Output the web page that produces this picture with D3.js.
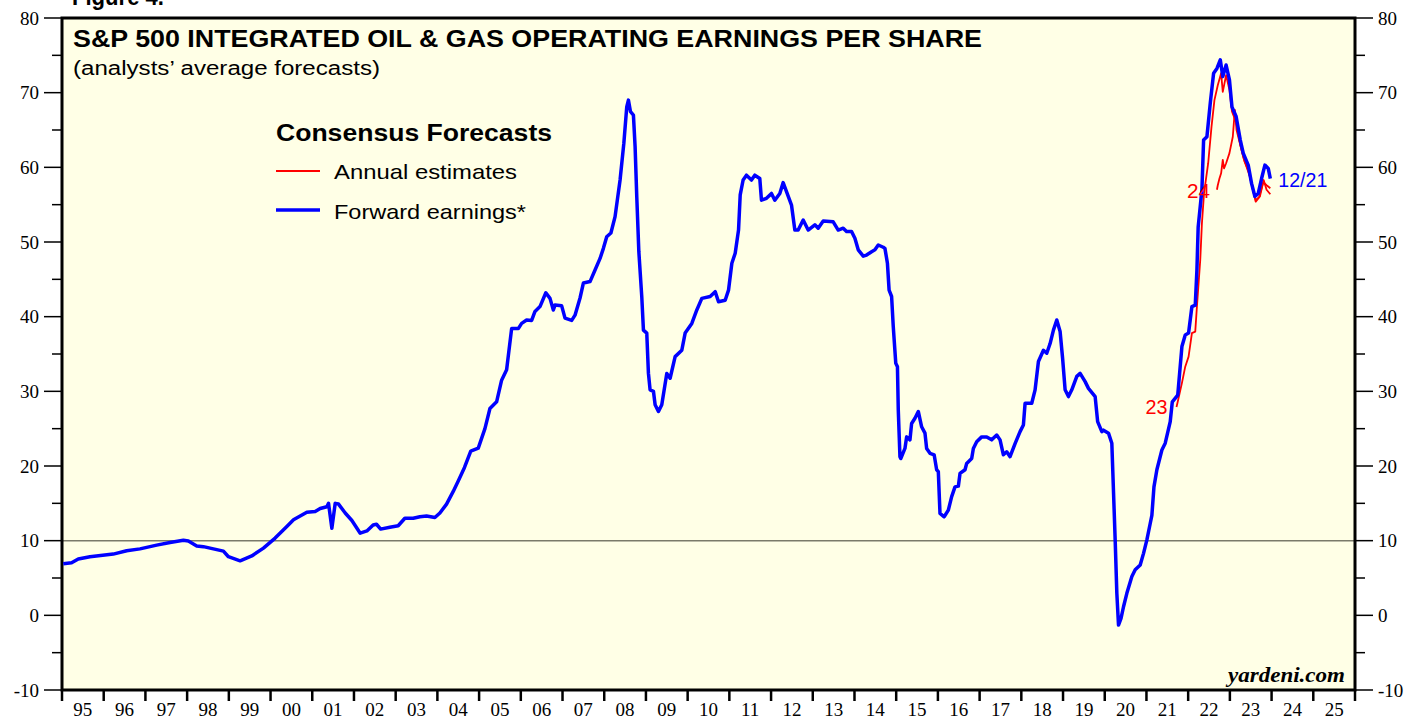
<!DOCTYPE html>
<html>
<head>
<meta charset="utf-8">
<script src="https://cdn.jsdelivr.net/npm/d3@7"></script>
<style>
  body { margin: 0; background: #fff; }
  svg { display: block; }
</style>
</head>
<body>
<div id="chart"></div>
<script>
// forward earnings (decimal year, $/share)
const fwdDates = [1995.03,1995.23,1995.39,1995.67,1996.23,1996.55,1996.87,1997.27,1997.59,1997.91,1998.03,1998.23,1998.39,1998.63,1998.87,1998.99,1999.27,1999.55,1999.83,2000.11,2000.39,2000.55,2000.87,2001.07,2001.19,2001.35,2001.39,2001.47,2001.55,2001.63,2001.79,2001.95,2002.15,2002.31,2002.46,2002.54,2002.64,2002.86,2003.06,2003.22,2003.42,2003.58,2003.74,2003.94,2004.06,2004.22,2004.38,2004.50,2004.65,2004.80,2004.98,2005.14,2005.26,2005.42,2005.54,2005.66,2005.78,2005.94,2006.02,2006.14,2006.26,2006.34,2006.46,2006.60,2006.70,2006.78,2006.82,2006.98,2007.06,2007.22,2007.30,2007.42,2007.50,2007.66,2007.78,2007.90,2007.98,2008.06,2008.16,2008.26,2008.38,2008.47,2008.54,2008.58,2008.63,2008.70,2008.74,2008.78,2008.83,2008.90,2008.94,2009.02,2009.06,2009.10,2009.18,2009.22,2009.30,2009.38,2009.50,2009.58,2009.70,2009.86,2009.94,2010.10,2010.22,2010.34,2010.54,2010.66,2010.74,2010.90,2010.98,2011.06,2011.14,2011.22,2011.26,2011.33,2011.41,2011.53,2011.61,2011.73,2011.77,2011.89,2012.01,2012.09,2012.21,2012.29,2012.37,2012.49,2012.57,2012.65,2012.77,2012.89,2013.05,2013.13,2013.25,2013.49,2013.61,2013.73,2013.81,2013.93,2014.01,2014.09,2014.21,2014.29,2014.41,2014.49,2014.57,2014.69,2014.73,2014.79,2014.83,2014.89,2014.93,2014.99,2015.03,2015.05,2015.09,2015.11,2015.21,2015.25,2015.33,2015.37,2015.45,2015.53,2015.61,2015.69,2015.73,2015.81,2015.91,2015.97,2016.01,2016.05,2016.15,2016.25,2016.33,2016.41,2016.49,2016.53,2016.65,2016.69,2016.81,2016.85,2016.93,2017.05,2017.17,2017.29,2017.41,2017.49,2017.57,2017.65,2017.73,2017.85,2017.97,2018.05,2018.09,2018.25,2018.33,2018.41,2018.53,2018.61,2018.69,2018.77,2018.85,2018.93,2018.99,2019.05,2019.13,2019.21,2019.33,2019.41,2019.53,2019.61,2019.77,2019.83,2019.93,2019.97,2020.09,2020.17,2020.25,2020.29,2020.33,2020.39,2020.45,2020.53,2020.65,2020.73,2020.85,2020.93,2021.01,2021.09,2021.13,2021.18,2021.25,2021.37,2021.45,2021.57,2021.62,2021.75,2021.85,2021.93,2022.01,2022.09,2022.17,2022.21,2022.24,2022.33,2022.37,2022.45,2022.53,2022.61,2022.69,2022.77,2022.83,2022.91,2022.99,2023.05,2023.15,2023.25,2023.32,2023.44,2023.52,2023.60,2023.68,2023.76,2023.84,2023.92,2023.97];
const fwdValues = [6.9,7.05,7.55,7.85,8.2,8.65,8.9,9.4,9.75,10.05,9.95,9.3,9.2,8.9,8.6,7.85,7.3,7.95,9.0,10.35,11.9,12.8,13.8,13.9,14.3,14.55,15.0,11.65,15.0,14.9,13.7,12.7,11.0,11.3,12.1,12.2,11.55,11.8,12.0,13.0,13.0,13.2,13.3,13.1,13.7,14.9,16.6,18.0,19.8,22.0,22.4,25.0,27.7,28.6,31.5,32.9,38.4,38.4,39.1,39.55,39.5,40.7,41.35,43.2,42.45,40.9,41.55,41.45,39.8,39.5,40.2,42.5,44.5,44.7,46.25,47.8,49.15,50.7,51.2,53.4,58.3,63.2,68.1,69.0,67.45,67.0,62.8,56.1,48.7,42.7,38.2,37.8,32.4,30.2,30.0,28.2,27.3,28.2,32.4,31.75,34.65,35.5,37.8,39.1,40.9,42.45,42.7,43.35,42.0,42.2,43.55,47.15,48.5,51.6,56.3,58.3,58.95,58.3,58.95,58.5,55.6,55.85,56.5,55.6,56.5,57.95,56.75,54.95,51.6,51.6,52.95,51.6,52.3,51.85,52.8,52.7,51.6,51.85,51.4,51.4,50.5,48.95,48.1,48.25,48.7,48.95,49.6,49.3,49.15,47.15,43.55,42.7,38.65,33.75,33.3,27.5,21.25,21.0,22.35,23.9,23.5,25.7,26.4,27.3,25.25,24.4,22.35,21.7,21.5,19.5,19.25,13.65,13.2,14.1,15.9,17.2,17.3,19.0,19.5,20.35,21.0,22.35,23.25,23.9,23.9,23.5,24.15,23.5,21.5,21.9,21.25,23.0,24.6,25.5,28.4,28.4,30.2,34.0,35.5,35.1,36.4,38.2,39.55,38.0,34.4,30.2,29.3,30.2,32.0,32.4,31.3,30.4,29.3,25.95,24.6,24.8,24.4,23.05,10.1,2.95,-1.3,-0.4,1.15,2.95,5.2,6.1,6.75,8.3,10.1,12.3,13.4,17.2,19.5,22.15,23.05,25.95,28.6,29.5,36.0,37.55,37.8,41.35,41.55,46.25,52.0,57.0,63.65,64.1,68.6,72.6,73.25,74.4,72.15,73.7,71.7,68.1,66.8,63.65,61.9,60.3,57.85,56.1,56.5,58.5,60.3,59.85,58.5];

// annual estimates for 2023 and 2024
const est23Dates = [2021.72,2021.75,2021.85,2021.93,2022.01,2022.09,2022.17,2022.21,2022.29,2022.33,2022.38,2022.48,2022.56,2022.63,2022.71,2022.79,2022.83,2022.91,2022.99,2023.05,2023.15,2023.25,2023.35,2023.45,2023.55,2023.62,2023.70,2023.80,2023.88,2023.97];
const est23Values = [27.9,28.6,31.1,33.3,34.65,37.8,38.0,41.35,47.6,52.5,56.5,60.55,65.45,69.0,71.0,72.6,70.1,72.35,70.35,67.5,66.0,63.0,60.8,59.5,57.0,55.6,56.0,58.0,57.6,57.2];
const est24Dates = [2022.69,2022.71,2022.75,2022.79,2022.83,2022.86,2022.91,2022.99,2023.07,2023.12,2023.16,2023.32,2023.48,2023.62,2023.72,2023.81,2023.88,2023.97];
const est24Values = [57.0,57.6,58.5,59.2,61.0,59.85,60.55,61.9,64.1,67.7,65.0,61.4,58.75,55.4,56.1,58.3,57.0,56.4];

const yearLabels = ['95','96','97','98','99','00','01','02','03','04','05','06','07','08','09','10','11','12','13','14','15','16','17','18','19','20','21','22','23','24','25'];
const yTicks = [-10, 0, 10, 20, 30, 40, 50, 60, 70, 80];

// -----------------------------------------------
const W = 1405, H = 717;
const plot = { left: 62, right: 1355, top: 18, bottom: 690 };
const serif = "'Liberation Serif', 'Times New Roman', serif";
const sans = "'Liberation Sans', Arial, Helvetica, sans-serif";

const x = d3.scaleLinear().domain([1995, 2026]).range([plot.left, plot.right]);
const y = d3.scaleLinear().domain([-10, 80]).range([plot.bottom, plot.top]);

const svg = d3.select('#chart').append('svg')
  .attr('width', W).attr('height', H)
  .attr('viewBox', [0, 0, W, H]);

// plot background
svg.append('rect')
  .attr('x', plot.left).attr('y', plot.top)
  .attr('width', plot.right - plot.left).attr('height', plot.bottom - plot.top)
  .attr('fill', '#ffffe6');

// reference line at 10
svg.append('line')
  .attr('x1', plot.left).attr('x2', plot.right)
  .attr('y1', y(10)).attr('y2', y(10))
  .attr('stroke', '#7a7a6a').attr('stroke-width', 1.5);

// y axes, left and right
const yMinor = d3.range(-5, 80, 10);
let yAxis = (g, side) => {
  const dir = side === 'left' ? -1 : 1;
  const x0 = side === 'left' ? plot.left : plot.right;
  g.selectAll('line.major').data(yTicks).join('line')
    .attr('class', 'major')
    .attr('x1', x0).attr('x2', x0 + dir * 18)
    .attr('y1', (d) => y(d)).attr('y2', (d) => y(d))
    .attr('stroke', '#000').attr('stroke-width', 1.5);
  g.selectAll('line.minor').data(yMinor).join('line')
    .attr('class', 'minor')
    .attr('x1', x0).attr('x2', x0 + dir * 10)
    .attr('y1', (d) => y(d)).attr('y2', (d) => y(d))
    .attr('stroke', '#000').attr('stroke-width', 1.5);
  g.selectAll('text').data(yTicks).join('text')
    .attr('x', x0 + dir * 23)
    .attr('y', (d) => y(d))
    .attr('dy', '0.35em')
    .attr('text-anchor', side === 'left' ? 'end' : 'start')
    .attr('font-family', serif)
    .attr('font-size', 19)
    .text((d) => d);
};
svg.append('g').call(yAxis, 'left');
svg.append('g').call(yAxis, 'right');

// x axis: ticks at year boundaries, labels mid-year (cut by the page edge, as in the source)
const years = d3.range(1995, 2027);
const gx = svg.append('g');
gx.selectAll('line').data(years).join('line')
  .attr('x1', (d) => x(d)).attr('x2', (d) => x(d))
  .attr('y1', plot.bottom).attr('y2', plot.bottom + 11)
  .attr('stroke', '#000').attr('stroke-width', 2.5);
gx.selectAll('text').data(yearLabels).join('text')
  .attr('x', (d, i) => x(1995.5 + i))
  .attr('y', plot.bottom + 26)
  .attr('text-anchor', 'middle')
  .attr('font-family', serif)
  .attr('font-size', 19)
  .text((d) => d);

// frame
svg.append('rect')
  .attr('x', plot.left).attr('y', plot.top)
  .attr('width', plot.right - plot.left).attr('height', plot.bottom - plot.top)
  .attr('fill', 'none').attr('stroke', '#000').attr('stroke-width', 3);

// lines
const line = d3.line().x((d) => x(d[0])).y((d) => y(d[1]));
const est23 = d3.zip(est23Dates, est23Values);
const est24 = d3.zip(est24Dates, est24Values);
const fwd = d3.zip(fwdDates, fwdValues);

[est23, est24].forEach((s) => {
  svg.append('path').datum(s)
    .attr('d', line)
    .attr('fill', 'none').attr('stroke', '#ff0000')
    .attr('stroke-width', 1.8).attr('stroke-linejoin', 'round');
});
svg.append('path').datum(fwd)
  .attr('d', line)
  .attr('fill', 'none').attr('stroke', '#0000ff')
  .attr('stroke-width', 3.5).attr('stroke-linejoin', 'round');

// series labels
let label = (txt, px, py, color, anchor, len) =>
  svg.append('text').attr('x', px).attr('y', py)
    .attr('text-anchor', anchor).attr('font-family', sans).attr('font-size', 20)
    .attr('textLength', len).attr('lengthAdjust', 'spacingAndGlyphs')
    .attr('fill', color).text(txt);
label('23', x(est23Dates[0]) - 9, y(est23Values[0]) + 7, '#ff0000', 'end', 22);
label('24', x(est24Dates[0]) - 7, y(est24Values[0]) + 8, '#ff0000', 'end', 23);
label('12/21', x(fwdDates[fwdDates.length - 1]) + 8, y(fwdValues[fwdValues.length - 1]) + 8, '#0000ff', 'start', 49);

// titles, stretched to the widths of the source
let text = (txt, px, py, size, weight, len) =>
  svg.append('text').attr('x', px).attr('y', py)
    .attr('font-family', sans).attr('font-size', size).attr('font-weight', weight)
    .attr('textLength', len).attr('lengthAdjust', 'spacingAndGlyphs')
    .text(txt);
text('Figure 4.', 72, 5, 23, 'bold', 92);
text('S&P 500 INTEGRATED OIL & GAS OPERATING EARNINGS PER SHARE', 73, 47, 23, 'bold', 909);
text('(analysts’ average forecasts)', 73, 75, 20, 'normal', 307);

// legend
text('Consensus Forecasts', 276, 141, 23, 'bold', 276);
text('Annual estimates', 334, 179, 21, 'normal', 183);
text('Forward earnings*', 334, 219, 21, 'normal', 192);
svg.append('line').attr('x1', 276).attr('x2', 320).attr('y1', 171).attr('y2', 171)
  .attr('stroke', '#ff0000').attr('stroke-width', 1.8);
svg.append('line').attr('x1', 276).attr('x2', 320).attr('y1', 210).attr('y2', 210)
  .attr('stroke', '#0000ff').attr('stroke-width', 3.5);

// source
svg.append('text').attr('x', 1345).attr('y', 682)
  .attr('text-anchor', 'end')
  .attr('font-family', serif).attr('font-size', 21)
  .attr('font-weight', 'bold').attr('font-style', 'italic')
  .attr('textLength', 117).attr('lengthAdjust', 'spacingAndGlyphs')
  .text('yardeni.com');
</script>
</body>
</html>
